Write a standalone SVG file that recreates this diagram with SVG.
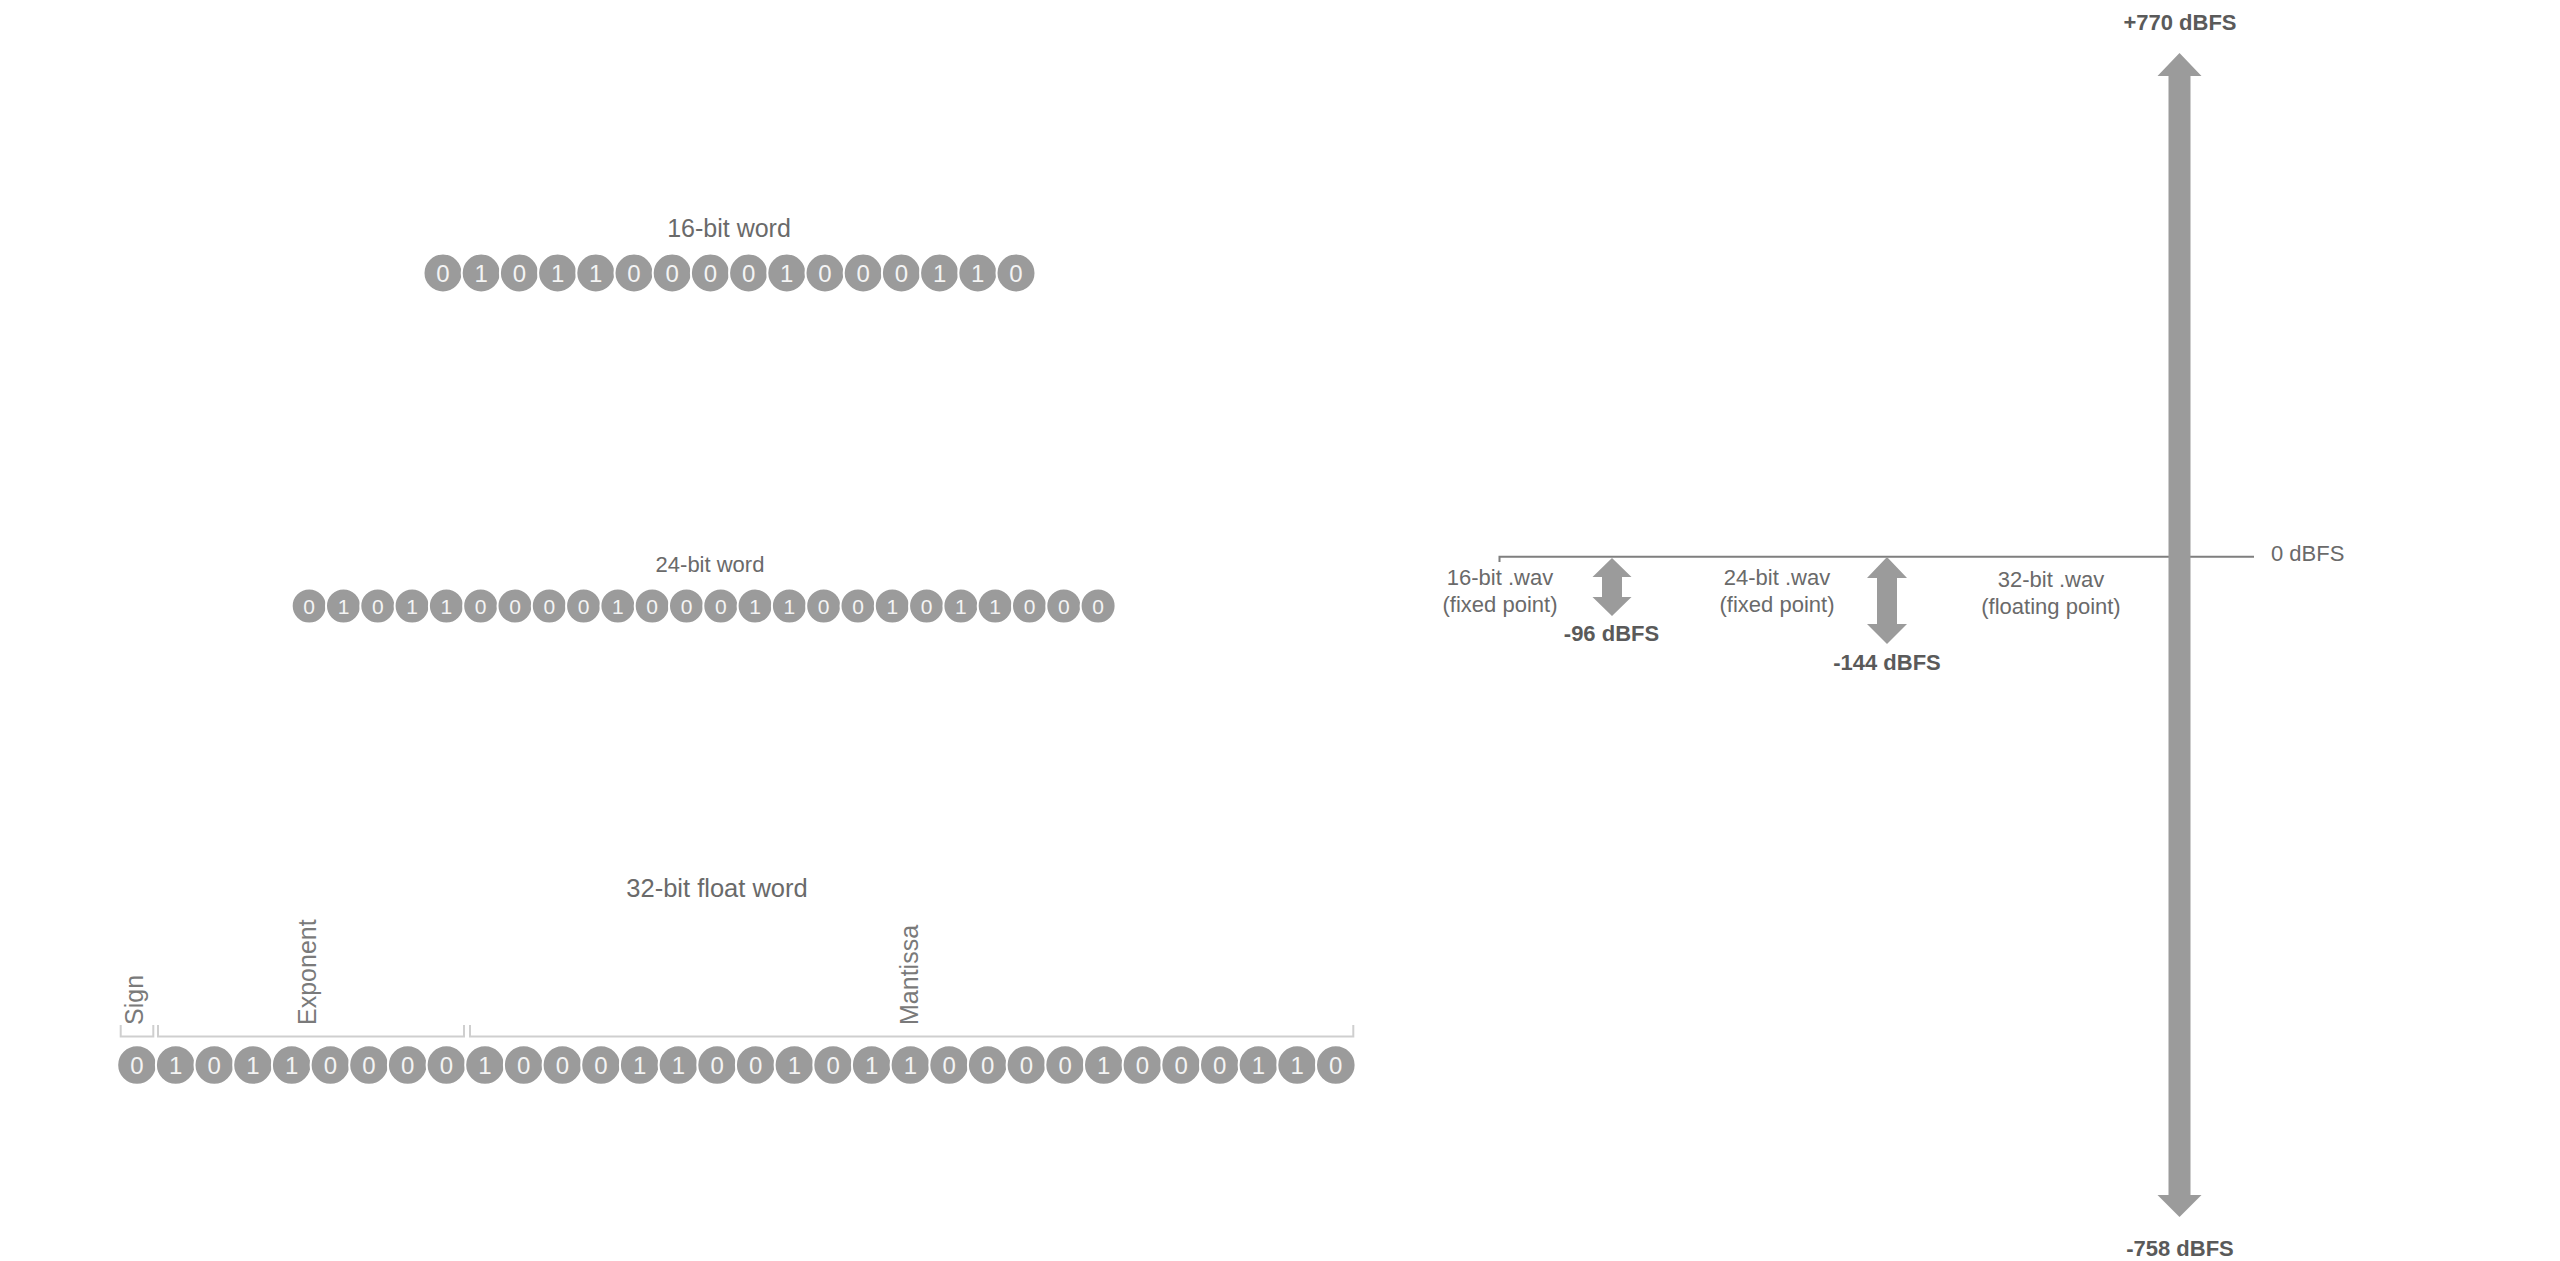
<svg xmlns="http://www.w3.org/2000/svg" width="2560" height="1261" viewBox="0 0 2560 1261">
<style>
.bg{fill:#ffffff}
.bit{fill:#9b9b9b;stroke:#ffffff;stroke-width:2}
.d{font-family:"Liberation Sans",Arial,sans-serif;fill:#f4f4f4;text-anchor:middle}
.d24{font-size:24px}
.d22{font-size:21px}
.title{font-family:"Liberation Sans",Arial,sans-serif;fill:#6a6a6a;text-anchor:middle}
.lab{font-family:"Liberation Sans",Arial,sans-serif;fill:#7a7a7a;font-size:25px}
.wav{font-family:"Liberation Sans",Arial,sans-serif;fill:#6a6a6a;font-size:22px;text-anchor:middle}
.db{font-family:"Liberation Sans",Arial,sans-serif;fill:#5a5a5a;font-size:22px;font-weight:bold;text-anchor:middle}
.brk{fill:none;stroke:#cfcfcf;stroke-width:2}
.arr{fill:#9b9b9b}
.axis{fill:none;stroke:#7f7f7f;stroke-width:2}
</style>
<rect class="bg" x="0" y="0" width="2560" height="1261"/>

<g id="word16">
<text class="title" x="729" y="237" font-size="25">16-bit word</text>
<circle class="bit" cx="443" cy="273" r="19.5"/><circle class="bit" cx="481.2" cy="273" r="19.5"/><circle class="bit" cx="519.4" cy="273" r="19.5"/><circle class="bit" cx="557.6" cy="273" r="19.5"/><circle class="bit" cx="595.8" cy="273" r="19.5"/><circle class="bit" cx="634" cy="273" r="19.5"/><circle class="bit" cx="672.2" cy="273" r="19.5"/><circle class="bit" cx="710.4" cy="273" r="19.5"/><circle class="bit" cx="748.6" cy="273" r="19.5"/><circle class="bit" cx="786.8" cy="273" r="19.5"/><circle class="bit" cx="825" cy="273" r="19.5"/><circle class="bit" cx="863.2" cy="273" r="19.5"/><circle class="bit" cx="901.4" cy="273" r="19.5"/><circle class="bit" cx="939.6" cy="273" r="19.5"/><circle class="bit" cx="977.8" cy="273" r="19.5"/><circle class="bit" cx="1016" cy="273" r="19.5"/>
<g class="d d24">
<text x="443" y="281.5">0</text><text x="481.2" y="281.5">1</text><text x="519.4" y="281.5">0</text><text x="557.6" y="281.5">1</text><text x="595.8" y="281.5">1</text><text x="634" y="281.5">0</text><text x="672.2" y="281.5">0</text><text x="710.4" y="281.5">0</text><text x="748.6" y="281.5">0</text><text x="786.8" y="281.5">1</text><text x="825" y="281.5">0</text><text x="863.2" y="281.5">0</text><text x="901.4" y="281.5">0</text><text x="939.6" y="281.5">1</text><text x="977.8" y="281.5">1</text><text x="1016" y="281.5">0</text>
</g>
</g>

<g id="word24">
<text class="title" x="710" y="572" font-size="22">24-bit word</text>
<circle class="bit" cx="309.2" cy="606" r="17.5"/><circle class="bit" cx="343.5" cy="606" r="17.5"/><circle class="bit" cx="377.8" cy="606" r="17.5"/><circle class="bit" cx="412.1" cy="606" r="17.5"/><circle class="bit" cx="446.4" cy="606" r="17.5"/><circle class="bit" cx="480.7" cy="606" r="17.5"/><circle class="bit" cx="515" cy="606" r="17.5"/><circle class="bit" cx="549.3" cy="606" r="17.5"/><circle class="bit" cx="583.6" cy="606" r="17.5"/><circle class="bit" cx="617.9" cy="606" r="17.5"/><circle class="bit" cx="652.2" cy="606" r="17.5"/><circle class="bit" cx="686.5" cy="606" r="17.5"/><circle class="bit" cx="720.8" cy="606" r="17.5"/><circle class="bit" cx="755.1" cy="606" r="17.5"/><circle class="bit" cx="789.4" cy="606" r="17.5"/><circle class="bit" cx="823.7" cy="606" r="17.5"/><circle class="bit" cx="858" cy="606" r="17.5"/><circle class="bit" cx="892.3" cy="606" r="17.5"/><circle class="bit" cx="926.6" cy="606" r="17.5"/><circle class="bit" cx="960.9" cy="606" r="17.5"/><circle class="bit" cx="995.2" cy="606" r="17.5"/><circle class="bit" cx="1029.5" cy="606" r="17.5"/><circle class="bit" cx="1063.8" cy="606" r="17.5"/><circle class="bit" cx="1098.1" cy="606" r="17.5"/>
<g class="d d22">
<text x="309.2" y="613.5">0</text><text x="343.5" y="613.5">1</text><text x="377.8" y="613.5">0</text><text x="412.1" y="613.5">1</text><text x="446.4" y="613.5">1</text><text x="480.7" y="613.5">0</text><text x="515" y="613.5">0</text><text x="549.3" y="613.5">0</text><text x="583.6" y="613.5">0</text><text x="617.9" y="613.5">1</text><text x="652.2" y="613.5">0</text><text x="686.5" y="613.5">0</text><text x="720.8" y="613.5">0</text><text x="755.1" y="613.5">1</text><text x="789.4" y="613.5">1</text><text x="823.7" y="613.5">0</text><text x="858" y="613.5">0</text><text x="892.3" y="613.5">1</text><text x="926.6" y="613.5">0</text><text x="960.9" y="613.5">1</text><text x="995.2" y="613.5">1</text><text x="1029.5" y="613.5">0</text><text x="1063.8" y="613.5">0</text><text x="1098.1" y="613.5">0</text>
</g>
</g>

<g id="word32">
<text class="title" x="717" y="897" font-size="25.5" fill="#777">32-bit float word</text>
<circle class="bit" cx="137" cy="1065" r="19.8"/><circle class="bit" cx="175.7" cy="1065" r="19.8"/><circle class="bit" cx="214.3" cy="1065" r="19.8"/><circle class="bit" cx="253" cy="1065" r="19.8"/><circle class="bit" cx="291.7" cy="1065" r="19.8"/><circle class="bit" cx="330.4" cy="1065" r="19.8"/><circle class="bit" cx="369" cy="1065" r="19.8"/><circle class="bit" cx="407.7" cy="1065" r="19.8"/><circle class="bit" cx="446.4" cy="1065" r="19.8"/><circle class="bit" cx="485" cy="1065" r="19.8"/><circle class="bit" cx="523.7" cy="1065" r="19.8"/><circle class="bit" cx="562.4" cy="1065" r="19.8"/><circle class="bit" cx="601" cy="1065" r="19.8"/><circle class="bit" cx="639.7" cy="1065" r="19.8"/><circle class="bit" cx="678.4" cy="1065" r="19.8"/><circle class="bit" cx="717.1" cy="1065" r="19.8"/><circle class="bit" cx="755.7" cy="1065" r="19.8"/><circle class="bit" cx="794.4" cy="1065" r="19.8"/><circle class="bit" cx="833.1" cy="1065" r="19.8"/><circle class="bit" cx="871.7" cy="1065" r="19.8"/><circle class="bit" cx="910.4" cy="1065" r="19.8"/><circle class="bit" cx="949.1" cy="1065" r="19.8"/><circle class="bit" cx="987.7" cy="1065" r="19.8"/><circle class="bit" cx="1026.4" cy="1065" r="19.8"/><circle class="bit" cx="1065.1" cy="1065" r="19.8"/><circle class="bit" cx="1103.8" cy="1065" r="19.8"/><circle class="bit" cx="1142.4" cy="1065" r="19.8"/><circle class="bit" cx="1181.1" cy="1065" r="19.8"/><circle class="bit" cx="1219.8" cy="1065" r="19.8"/><circle class="bit" cx="1258.4" cy="1065" r="19.8"/><circle class="bit" cx="1297.1" cy="1065" r="19.8"/><circle class="bit" cx="1335.8" cy="1065" r="19.8"/>
<g class="d d24">
<text x="137" y="1073.5">0</text><text x="175.7" y="1073.5">1</text><text x="214.3" y="1073.5">0</text><text x="253" y="1073.5">1</text><text x="291.7" y="1073.5">1</text><text x="330.4" y="1073.5">0</text><text x="369" y="1073.5">0</text><text x="407.7" y="1073.5">0</text><text x="446.4" y="1073.5">0</text><text x="485" y="1073.5">1</text><text x="523.7" y="1073.5">0</text><text x="562.4" y="1073.5">0</text><text x="601" y="1073.5">0</text><text x="639.7" y="1073.5">1</text><text x="678.4" y="1073.5">1</text><text x="717.1" y="1073.5">0</text><text x="755.7" y="1073.5">0</text><text x="794.4" y="1073.5">1</text><text x="833.1" y="1073.5">0</text><text x="871.7" y="1073.5">1</text><text x="910.4" y="1073.5">1</text><text x="949.1" y="1073.5">0</text><text x="987.7" y="1073.5">0</text><text x="1026.4" y="1073.5">0</text><text x="1065.1" y="1073.5">0</text><text x="1103.8" y="1073.5">1</text><text x="1142.4" y="1073.5">0</text><text x="1181.1" y="1073.5">0</text><text x="1219.8" y="1073.5">0</text><text x="1258.4" y="1073.5">1</text><text x="1297.1" y="1073.5">1</text><text x="1335.8" y="1073.5">0</text>
</g>
</g>

<g id="field-sign">
<path class="brk" d="M120.7 1025 V1036.5 H153.3 V1025"/>
<text class="lab" transform="translate(143 1025) rotate(-90)">Sign</text>
</g>
<g id="field-exponent">
<path class="brk" d="M158 1025 V1036.5 H464 V1025"/>
<text class="lab" transform="translate(316 1025) rotate(-90)">Exponent</text>
</g>
<g id="field-mantissa">
<path class="brk" d="M470 1025 V1036.5 H1353.3 V1025"/>
<text class="lab" transform="translate(918 1025) rotate(-90)">Mantissa</text>
</g>

<g id="connectors">
<path class="axis" d="M1499.5 562 V556.7 H2254"/>
<polygon id="arrow-range" class="arr" points="2179.5,53 2201.5,76 2190.5,76 2190.5,1195 2201.5,1195 2179.5,1217 2157.5,1195 2168.5,1195 2168.5,76 2157.5,76"/>
<polygon id="arrow-16" class="arr" points="1612,558 1631.5,577 1622,577 1622,597 1631.5,597 1612,616 1592.5,597 1602,597 1602,577 1592.5,577"/>
<polygon id="arrow-24" class="arr" points="1887,557 1907,578 1897,578 1897,624 1907,624 1887,644 1867,624 1877,624 1877,578 1867,578"/>
</g>

<g id="scale-labels">
<text class="db" x="2180" y="30">+770 dBFS</text>
<text class="db" x="2180" y="1256">-758 dBFS</text>
<text class="wav" x="2271" y="561" text-anchor="start" style="text-anchor:start">0 dBFS</text>
</g>
<g id="fmt16">
<text class="wav" x="1500" y="585">16-bit .wav</text>
<text class="wav" x="1500" y="612">(fixed point)</text>
<text class="db" x="1611.5" y="641">-96 dBFS</text>
</g>
<g id="fmt24">
<text class="wav" x="1777" y="585">24-bit .wav</text>
<text class="wav" x="1777" y="612">(fixed point)</text>
<text class="db" x="1887" y="670">-144 dBFS</text>
</g>
<g id="fmt32">
<text class="wav" x="2051" y="587">32-bit .wav</text>
<text class="wav" x="2051" y="614">(floating point)</text>
</g>
</svg>
